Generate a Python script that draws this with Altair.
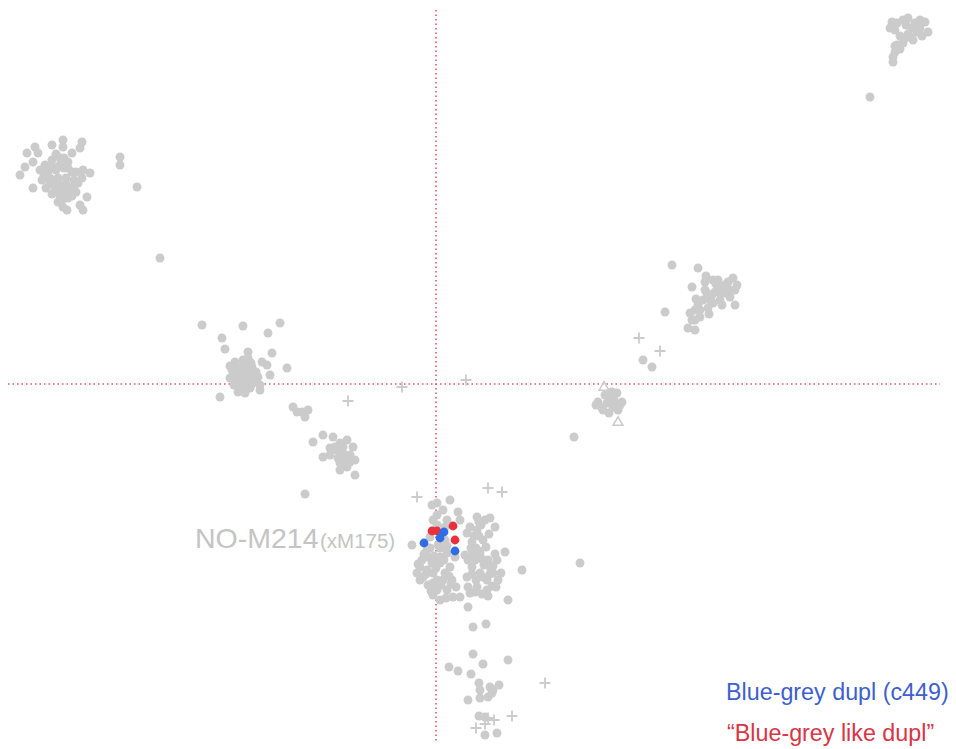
import altair as alt
import pandas as pd

# PCA scores (PC1, PC2) per group
cluster_nw = [(-40.1, 23.7), (-40.9, 23.1), (-39.8, 23.1), (-38.4, 23.9), (-37.3, 24.4), (-37.3, 23.7),
              (-35.4, 24.2), (-35.6, 23.6), (-36.4, 23.1), (-40.3, 22.2), (-41.1, 21.7), (-41.6, 20.9),
              (-40.3, 19.6), (-34.6, 21.1), (-35.3, 21.4), (-35.8, 20.1), (-34.9, 18.7), (-37.3, 17.7),
              (-36.9, 17.4), (-35.6, 17.9), (-35.3, 17.4), (-31.6, 22.7), (-31.6, 21.9), (-29.9, 19.7),
              (-39.1, 21.9), (-38.4, 22.4), (-37.6, 22.6), (-36.8, 22.2), (-38.8, 21.2), (-38.0, 21.4),
              (-37.2, 21.6), (-36.4, 21.2), (-39.4, 20.4), (-38.6, 20.6), (-37.8, 20.6), (-37.0, 20.6),
              (-36.2, 20.4), (-39.0, 19.6), (-38.2, 19.8), (-37.4, 19.8), (-36.6, 19.4), (-38.4, 19.0),
              (-37.6, 18.8), (-36.8, 18.6), (-37.8, 18.2), (-36.0, 19.2), (-39.6, 21.4), (-27.6, 12.6),
              (-39.2, 20.9), (-38.4, 21.8), (-37.6, 21.9), (-36.8, 21.6), (-36.0, 21.2), (-38.6, 20.1),
              (-37.8, 20.1), (-37.0, 20.0), (-36.2, 19.8), (-38.0, 19.3), (-37.2, 19.2), (-36.4, 18.8),
              (-37.4, 18.4), (-35.4, 20.6), (-37.2, 22.6), (-38.0, 23.0)]

cluster_w = [(-23.4, 5.9), (-19.3, 5.8), (-15.6, 6.1), (-21.4, 4.6), (-16.8, 5.1), (-21.1, 3.5),
             (-18.8, 3.2), (-16.4, 3.1), (-17.4, 2.2), (-16.9, 1.9), (-14.9, 1.6), (-16.6, 0.9),
             (-21.6, -1.3), (-17.6, -0.6), (-20.1, 2.2), (-19.3, 2.4), (-18.5, 2.1), (-20.4, 1.4),
             (-19.6, 1.6), (-18.8, 1.4), (-18.0, 1.2), (-20.6, 0.6), (-19.8, 0.7), (-19.0, 0.6),
             (-18.2, 0.4), (-17.6, -0.1), (-20.2, -0.1), (-19.4, -0.2), (-18.6, -0.4), (-19.1, -0.9),
             (-19.8, -0.8), (-20.0, 1.8), (-19.2, 2.0), (-18.4, 1.7), (-20.2, 1.0), (-19.4, 1.1),
             (-18.6, 0.9), (-17.8, 0.7), (-20.0, 0.3), (-19.2, 0.2), (-18.4, 0.0), (-19.6, -0.5),
             (-18.8, 2.6), (-20.6, 1.8)]

cluster_sw = [(-14.3, -2.3), (-13.9, -2.8), (-13.4, -2.8), (-12.8, -2.6), (-13.1, -3.3),
              (-12.3, -5.8), (-11.3, -5.1), (-10.3, -5.3), (-9.6, -5.9), (-8.9, -5.6), (-8.3, -6.3),
              (-9.9, -6.6), (-9.3, -6.9), (-11.3, -7.3), (-10.6, -7.1), (-9.6, -7.9), (-8.9, -8.3),
              (-8.1, -7.6), (-8.1, -9.1), (-10.1, -6.3), (-9.1, -7.6), (-9.6, -8.6), (-8.6, -7.1),
              (-13.1, -11.0), (-9.3, -6.3), (-10.6, -6.4), (-8.6, -7.8), (-9.8, -7.4)]

cluster_e = [(16.2, -1.8), (16.7, -2.6), (17.4, -1.3), (18.1, -0.9), (18.6, -1.8), (17.7, -2.3),
             (17.1, -1.9), (18.2, -2.6), (16.0, -2.1), (17.3, -2.9), (13.8, -5.3), (20.7, 2.4),
             (21.6, 1.7), (16.9, -1.1), (17.8, -1.6), (16.6, -2.4), (18.4, -2.1), (17.6, -0.8)]

cluster_ne = [(23.6, 11.9), (26.2, 11.6), (25.6, 9.7), (26.9, 10.2), (27.7, 10.4), (29.7, 10.6),
              (30.1, 9.9), (28.4, 9.1), (29.4, 8.7), (27.1, 9.1), (26.7, 8.4), (29.9, 7.9),
              (28.6, 7.9), (27.7, 8.1), (25.9, 7.4), (25.6, 6.4), (26.4, 6.7), (25.2, 5.6),
              (25.9, 5.4), (22.9, 7.2), (28.2, 9.6), (28.9, 9.9), (27.6, 8.9), (26.2, 7.9),
              (25.4, 7.1), (26.9, 9.4), (27.9, 9.2), (28.9, 9.1), (27.4, 8.4), (28.4, 8.4),
              (29.4, 9.4), (26.4, 7.4), (27.2, 7.6), (25.9, 6.4), (28.2, 10.4), (29.2, 10.2),
              (27.0, 10.8), (28.0, 10.0), (29.9, 9.4), (27.3, 7.0), (26.0, 8.5)]

cluster_far = [(45.6, 36.2), (45.4, 35.6), (46.1, 36.1), (47.2, 36.6), (47.9, 36.1), (48.9, 36.2),
               (49.2, 35.2), (48.1, 35.2), (48.4, 35.6), (47.4, 34.7), (47.7, 34.4), (46.7, 34.1),
               (46.1, 33.9), (46.4, 33.5), (45.7, 32.7), (45.7, 32.2), (43.4, 28.7), (45.9, 35.4),
               (46.7, 36.4), (48.4, 36.4), (47.6, 35.6), (46.9, 34.6), (48.6, 34.8), (45.9, 33.2),
               (47.0, 35.9), (48.0, 35.9), (47.2, 35.0), (46.4, 34.8), (45.9, 33.8)]

cluster_s = [(-0.4, -12.1), (0.1, -11.9), (1.4, -11.6), (0.7, -12.6), (2.2, -12.8), (-0.3, -13.6),
             (-2.4, -16.1), (-0.9, -17.3), (-1.6, -18.3), (-1.3, -19.3), (-0.3, -18.9), (0.4, -17.9),
             (1.4, -18.3), (0.7, -19.6), (0.1, -20.6), (1.1, -20.6), (1.7, -21.3), (-0.3, -19.9),
             (-0.9, -18.6), (0.4, -17.3), (1.1, -16.9), (1.9, -17.3), (-1.6, -19.6), (-0.6, -16.4),
             (0.4, -16.4), (0.1, -14.1), (1.1, -13.6), (0.9, -15.6), (1.6, -19.6), (0.4, -21.6),
             (4.1, -13.3), (4.9, -13.6), (5.4, -13.4), (3.4, -14.3), (3.1, -14.9), (4.1, -14.6),
             (4.7, -15.6), (3.6, -15.8), (4.4, -16.9), (5.2, -17.6), (6.1, -17.6), (3.6, -18.3),
             (4.4, -18.9), (5.1, -19.6), (5.7, -18.9), (6.2, -19.6), (4.1, -20.3), (5.1, -20.6),
             (3.1, -19.3), (3.2, -20.3), (6.9, -16.8), (8.6, -18.6), (7.2, -21.6), (2.4, -21.3),
             (3.2, -22.3), (2.9, -17.1), (3.9, -17.6), (5.4, -18.3), (14.4, -17.9), (3.7, -24.3),
             (5.0, -24.0), (0.1, -13.1), (0.9, -14.3), (-0.6, -15.3), (0.2, -16.1), (1.1, -16.2),
             (-1.4, -17.6), (-0.4, -17.9), (0.9, -18.9), (-0.8, -20.1), (0.1, -19.6), (1.0, -21.4),
             (-0.3, -21.1), (2.0, -20.3), (-1.9, -18.9), (0.0, -18.4), (-0.9, -16.6),
             (4.5, -14.1), (3.8, -15.2), (5.0, -16.3), (4.0, -16.4), (4.8, -18.1), (5.7, -18.2),
             (4.0, -19.6), (3.4, -20.9), (4.6, -21.0), (5.6, -20.2), (6.5, -18.9), (3.2, -17.6),
             (5.9, -14.3), (2.4, -13.6), (-1.2, -17.0), (-0.2, -17.2), (0.8, -17.6), (-1.0, -19.0),
             (0.5, -20.1), (1.5, -20.0), (-0.5, -20.7), (1.3, -19.2), (-1.8, -18.0),
             (4.3, -15.2), (5.3, -15.0), (3.7, -17.0), (4.6, -17.5), (5.9, -17.0), (3.6, -19.0),
             (4.7, -19.3), (5.4, -19.0), (3.9, -20.8), (5.2, -21.2), (6.0, -20.3), (4.3, -13.8),
             (3.5, -16.4)]

cluster_bottom = [(3.7, -27.0), (4.7, -28.0), (7.2, -27.6), (1.3, -28.3), (2.2, -28.7), (3.5, -29.0),
                  (4.3, -29.9), (5.4, -30.3), (6.3, -30.1), (5.7, -30.6), (4.4, -30.6), (4.4, -31.4),
                  (5.2, -31.3), (3.2, -31.6), (5.6, -30.9), (4.3, -33.2), (4.9, -33.3), (6.1, -34.9),
                  (4.9, -35.1)]

crosses = [(-8.8, -1.7), (-3.4, -0.3), (3.0, 0.4), (-1.9, -11.3), (5.2, -10.4), (6.6, -10.8),
           (4.7, -16.4), (20.3, 4.6), (22.4, 3.3), (10.9, -29.9), (7.6, -33.2), (5.2, -33.4),
           (5.8, -33.6), (4.0, -34.4), (4.9, -34.0)]

triangles = [(16.8, -0.2), (18.2, -3.7)]

dupl_c449 = [(-1.2, -15.9), (0.4, -15.4), (0.8, -14.8), (1.9, -16.7)]
like_dupl = [(-0.4, -14.7), (0.1, -14.7), (1.7, -14.2), (1.9, -15.6)]

labels = [("NO-M214", -24.1, -16.4, 28.5, "#c4c4c4"),
          ("(xM175)", -11.6, -16.4, 20.5, "#c4c4c4"),
          ("Blue-grey dupl (c449)", 29.0, -31.6, 23.3, "#3d5fd0"),
          ("\u201cBlue-grey like dupl\u201d", 29.1, -35.7, 23.3, "#d83545")]

GREY = "#cbcbcb"
X_DOMAIN = [-43.6, 52.0]
Y_DOMAIN = [-36.5, 38.4]


def frame(points):
    return pd.DataFrame(points, columns=["pc1", "pc2"])


grey_pts = frame(cluster_nw + cluster_w + cluster_sw + cluster_e + cluster_ne
                 + cluster_far + cluster_s + cluster_bottom)

xs = alt.Scale(domain=X_DOMAIN, nice=False, zero=False)
ys = alt.Scale(domain=Y_DOMAIN, nice=False, zero=False)
X = alt.X("pc1:Q", scale=xs, axis=None)
Y = alt.Y("pc2:Q", scale=ys, axis=None)

# origin crosshair
vline = alt.Chart(pd.DataFrame({"pc1": [0.0], "y0": [37.4], "y1": [-35.8]})).mark_rule(
    color="#e0566a", strokeWidth=1.6, strokeDash=[1.5, 3]
).encode(x=X, y=alt.Y("y0:Q", scale=ys, axis=None), y2="y1:Q")

hline = alt.Chart(pd.DataFrame({"pc2": [0.0], "x0": [-42.8], "x1": [50.4]})).mark_rule(
    color="#e0566a", strokeWidth=1.6, strokeDash=[1.5, 3]
).encode(y=Y, x=alt.X("x0:Q", scale=xs, axis=None), x2="x1:Q")

grey = alt.Chart(grey_pts).mark_circle(size=80, color=GREY, opacity=1).encode(x=X, y=Y)

plus = alt.Chart(frame(crosses)).mark_point(
    shape="M-1,0H1M0,-1V1", size=120, color=GREY, strokeWidth=1.8, filled=False, opacity=1
).encode(x=X, y=Y)

tri = alt.Chart(frame(triangles)).mark_point(
    shape="triangle-up", size=95, color=GREY, strokeWidth=1.6, filled=False, opacity=1
).encode(x=X, y=Y)

red = alt.Chart(frame(like_dupl)).mark_circle(size=78, color="#e8303f", opacity=1).encode(x=X, y=Y)
blue = alt.Chart(frame(dupl_c449)).mark_circle(size=78, color="#2f6de8", opacity=1).encode(x=X, y=Y)

label_df = pd.DataFrame(labels, columns=["text", "pc1", "pc2", "fs", "col"])
text = alt.Chart(label_df).mark_text(
    align="left", baseline="alphabetic", font="Liberation Sans"
).encode(
    x=X, y=Y, text="text:N",
    size=alt.Size("fs:Q", scale=None, legend=None),
    color=alt.Color("col:N", scale=None, legend=None),
)

chart = alt.layer(vline, hline, grey, plus, tri, red, blue, text).properties(
    width=956, height=749, padding=0,
    autosize=alt.AutoSizeParams(type="none"),
    background="white",
).configure_view(stroke=None)

chart.save("out.html", embed_options={"renderer": "svg", "actions": False})
